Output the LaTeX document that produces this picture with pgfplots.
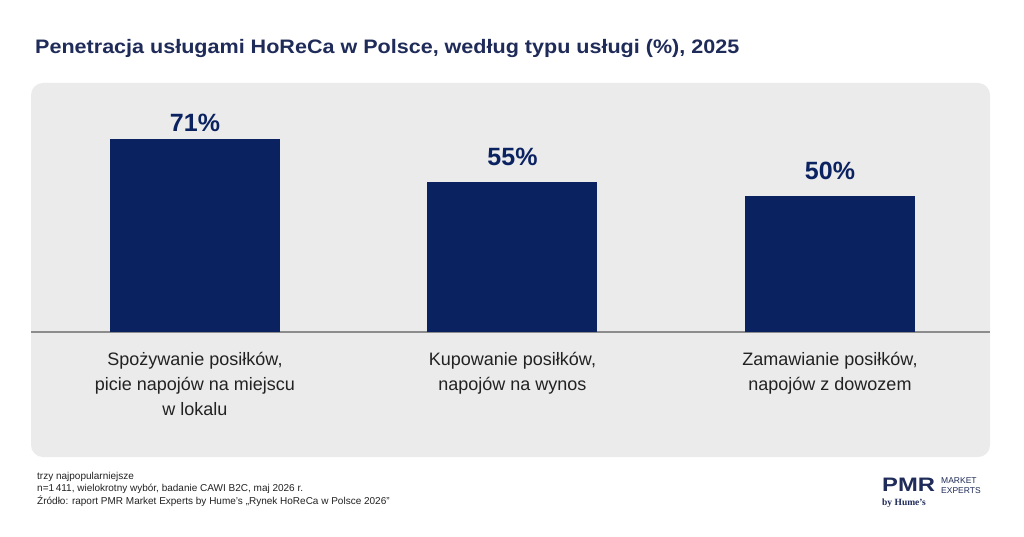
\documentclass[border=0pt]{standalone}
\usepackage{graphicx}
\usepackage{pgfplots}
\pgfplotsset{compat=1.18}
\usepackage{fontspec}
\setmainfont{Liberation Sans}
\newfontfamily\logoserif{Liberation Serif}
\definecolor{navy}{HTML}{0B2261}
\definecolor{titlenavy}{HTML}{1F2B58}
\definecolor{panel}{HTML}{EBEBEB}
\definecolor{basegray}{HTML}{8C8C8C}
\definecolor{labeltext}{HTML}{222222}
\begin{document}
\begin{tikzpicture}
\path[use as bounding box, fill=white] (0pt,0pt) rectangle (1024pt,-537pt);
\fill[panel, rounded corners=12pt] (31pt,-83pt) rectangle (990pt,-457pt);
\node[anchor=base west, text=titlenavy, font=\bfseries\fontsize{19.5}{23}\selectfont, inner sep=0pt] at (35pt,-54pt) {\scalebox{1.105}[1]{Penetracja usługami HoReCa w Polsce, według typu usługi (\%), 2025}};
\begin{axis}[
  at={(31pt,-332pt)}, anchor=south west,
  scale only axis, width=959pt, height=249pt,
  xmin=-0.5165, xmax=2.504, ymin=0, ymax=91.5,
  axis x line=bottom, axis y line=none,
  x axis line style={basegray, line width=1.5pt, -},
  xtick={0,1,2},
  xticklabels={{Spożywanie posiłków,\\picie napojów na miejscu\\w lokalu},{Kupowanie posiłków,\\napojów na wynos},{Zamawianie posiłków,\\napojów z dowozem}},
  major tick length=0pt,
  xticklabel style={align=center, font=\fontsize{18}{25}\selectfont, text=labeltext, anchor=north, yshift=-17pt},
  ytick=\empty,
  clip=false,
  /pgf/number format/assume math mode=true,
  ybar,
]
\addplot[fill=navy, draw=none, bar width=170pt, bar shift=0pt,
  nodes near coords={\pgfmathprintnumber{\pgfplotspointmeta}\%},
  every node near coord/.append style={anchor=base, yshift=7pt, font=\bfseries\fontsize{25}{25}\selectfont, text=navy}]
  coordinates {(0,71)};
\addplot[fill=navy, draw=none, bar width=170pt, bar shift=0pt,
  nodes near coords={\pgfmathprintnumber{\pgfplotspointmeta}\%},
  every node near coord/.append style={anchor=base, yshift=17pt, font=\bfseries\fontsize{25}{25}\selectfont, text=navy}]
  coordinates {(1,55)};
\addplot[fill=navy, draw=none, bar width=170pt, bar shift=0pt,
  nodes near coords={\pgfmathprintnumber{\pgfplotspointmeta}\%},
  every node near coord/.append style={anchor=base, yshift=16pt, font=\bfseries\fontsize{25}{25}\selectfont, text=navy}]
  coordinates {(2,50)};
\end{axis}
\node[anchor=base west, font=\fontsize{10}{12}\selectfont, text=labeltext, inner sep=0pt] at (37pt,-479pt) {trzy najpopularniejsze};
\node[anchor=base west, font=\fontsize{10}{12}\selectfont, text=labeltext, inner sep=0pt] at (37pt,-491.5pt) {n=1\,411, wielokrotny wybór, badanie CAWI B2C, maj 2026 r.};
\node[anchor=base west, font=\fontsize{10}{12}\selectfont, text=labeltext, inner sep=0pt] at (37pt,-504pt) {Źródło: raport PMR Market Experts by Hume’s „Rynek HoReCa w Polsce 2026”};
\node[anchor=base west, font=\bfseries\fontsize{19.5}{20}\selectfont, text=titlenavy, inner sep=0pt] at (882pt,-491pt) {\scalebox{1.22}[1]{PMR}};
\node[anchor=base west, font=\fontsize{8.5}{9}\selectfont, text=titlenavy, inner sep=0pt] at (941pt,-483pt) {MARKET};
\node[anchor=base west, font=\fontsize{8.5}{9}\selectfont, text=titlenavy, inner sep=0pt] at (941pt,-493pt) {EXPERTS};
\node[anchor=base west, font=\logoserif\bfseries\fontsize{9.5}{10}\selectfont, text=titlenavy, inner sep=0pt] at (882pt,-505pt) {by Hume’s};
\end{tikzpicture}
\end{document}
